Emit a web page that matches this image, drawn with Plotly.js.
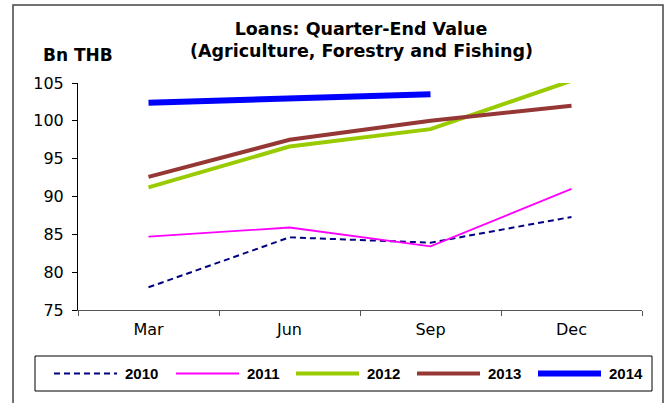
<!DOCTYPE html>
<html>
<head>
<meta charset="utf-8">
<script src="https://cdn.plot.ly/plotly-3.0.1.min.js"></script>
<style>html,body{margin:0;padding:0;background:#fff;}#chart{width:670px;height:403px;}</style>
</head>
<body>
<div id="chart"></div>
<script>
const quarters = ["Mar", "Jun", "Sep", "Dec"];
const seriesNames = ["2010", "2011", "2012", "2013", "2014"];
const v2010 = [78.0, 84.6, 83.9, 87.3];
const v2011 = [84.7, 85.9, 83.4, 91.0];
const v2012 = [91.2, 96.6, 98.9, 105.3];
const v2013 = [92.6, 97.5, 100.0, 102.0];
const v2014 = [102.4, 102.9, 103.5];
const yTicks = [75, 80, 85, 90, 95, 100, 105];

const styles = [
  {color: "#000080", width: 2, dash: "6px,4px"},
  {color: "#ff00ff", width: 1.8, dash: "solid"},
  {color: "#99cc00", width: 4, dash: "solid"},
  {color: "#953735", width: 4, dash: "solid"},
  {color: "#0000ff", width: 6, dash: "solid"}
];
const values = [v2010, v2011, v2012, v2013, v2014];

const traces = values.map((v, i) => ({
  name: seriesNames[i], x: quarters.slice(0, v.length), y: v, mode: "lines",
  line: styles[i], showlegend: false
}));

// plot area in pixels: x 78..642, y 83..310
const L = 78, R = 642, T = 83, B = 310;
const px = p => (p - L) / (R - L);
const py = p => (B - p) / (B - T);

const shapes = [
  {type: "rect", xref: "paper", yref: "paper", x0: px(13), x1: px(663), y0: py(420), y1: py(5),
   line: {color: "#444", width: 1.5}, fillcolor: "rgba(0,0,0,0)", layer: "below"},
  {type: "rect", xref: "paper", yref: "paper", x0: px(35), x1: px(652), y0: py(391), y1: py(356),
   line: {color: "#000", width: 1}, fillcolor: "#fff", layer: "above"}
];
const annotations = [
  {text: "<b>(Agriculture, Forestry and Fishing)</b>", xref: "paper", yref: "paper", x: px(361), y: py(51),
   xanchor: "center", yanchor: "middle", showarrow: false,
   font: {size: 17.5, family: "DejaVu Sans", color: "#000"}},
  {text: "<b>Bn THB</b>", xref: "paper", yref: "paper", x: px(78), y: py(55), xanchor: "center", yanchor: "middle",
   showarrow: false, font: {size: 17, family: "DejaVu Sans", color: "#000"}}
];
const legLineStart = [54, 176, 296, 417, 538];
const legY = 373.5;
seriesNames.forEach((n, i) => {
  const s = styles[i];
  shapes.push({type: "line", xref: "paper", yref: "paper", x0: px(legLineStart[i]), x1: px(legLineStart[i] + 63),
    y0: py(legY), y1: py(legY), layer: "above",
    line: {color: s.color, width: s.width, dash: s.dash}});
  annotations.push({text: "<b>" + n + "</b>", xref: "paper", yref: "paper", x: px(legLineStart[i] + 69), y: py(legY),
    xanchor: "left", yanchor: "middle", showarrow: false,
    font: {size: 15, family: "Liberation Sans, Arial, sans-serif", color: "#000"}});
});

const layout = {
  width: 670, height: 403,
  margin: {l: L, r: 670 - R, t: T, b: 403 - B},
  paper_bgcolor: "#ffffff", plot_bgcolor: "#ffffff",
  font: {family: "DejaVu Sans, sans-serif", color: "#000", size: 16},
  title: {
    text: "<b>Loans: Quarter-End Value</b>",
    font: {size: 17.5, family: "DejaVu Sans", color: "#000"},
    xref: "container", x: 361 / 670, xanchor: "center", yref: "container", y: 1 - 29 / 403, yanchor: "middle"
  },
  xaxis: {
    type: "category", range: [-0.5, 3.5], tickson: "boundaries",
    ticks: "outside", ticklen: 5, tickcolor: "#555", showline: true, linecolor: "#555", linewidth: 1,
    showgrid: false, zeroline: false, fixedrange: true, automargin: false, ticklabelstandoff: 5,
    tickfont: {size: 16, color: "#000"}
  },
  yaxis: {
    range: [75, 105], tickvals: yTicks, ticktext: yTicks.map(String),
    ticks: "outside", ticklen: 5, tickcolor: "#000", showline: true, linecolor: "#000", linewidth: 1,
    showgrid: false, zeroline: false, fixedrange: true, automargin: false, ticklabelstandoff: 5,
    tickfont: {size: 16, color: "#000"}
  },
  showlegend: false,
  annotations: annotations,
  shapes: shapes
};

Plotly.newPlot("chart", traces, layout, {displayModeBar: false, staticPlot: true});
</script>
</body>
</html>
